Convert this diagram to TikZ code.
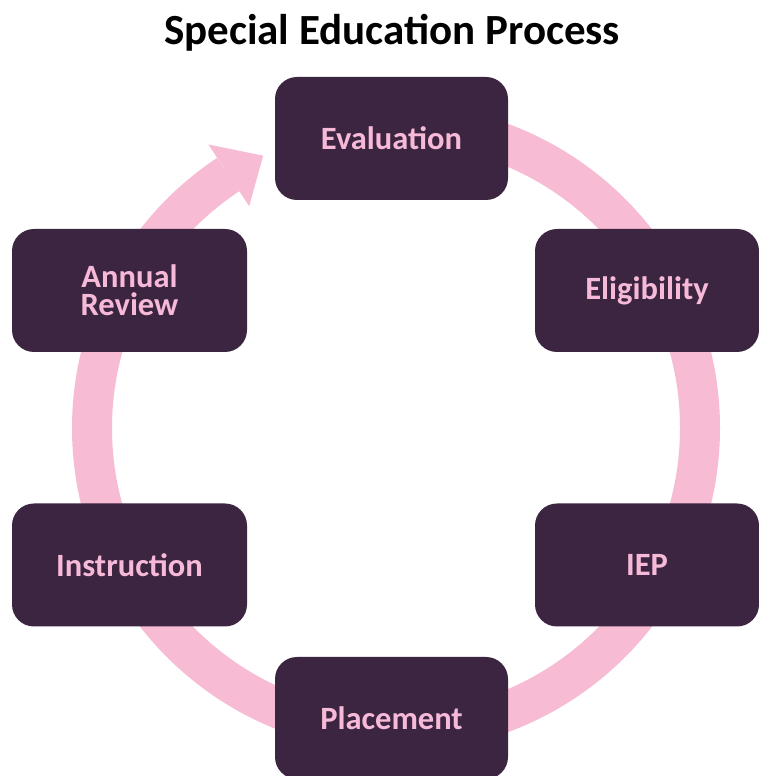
\documentclass[tikz,border=0pt]{standalone}
\usepackage{fontspec}
\setmainfont{Carlito}
\definecolor{boxfill}{RGB}{60,37,65}
\definecolor{ringpink}{RGB}{247,187,212}
\definecolor{textpink}{RGB}{246,186,216}
\begin{document}
\begin{tikzpicture}[x=1pt,y=1pt,
  stagebox/.style={fill=boxfill,draw=none,rounded corners=22pt,minimum height=123pt,
    text=textpink,font=\fontsize{32.5}{28}\selectfont\bfseries,align=center,inner sep=0pt},
  ringline/.style={draw=ringpink,line width=40pt},
  ringhead/.style={fill=ringpink,draw=none}]
\useasboundingbox (0,0) rectangle (759,776);
\clip (0,0) rectangle (759,776);
\fill[white] (0,0) rectangle (759,776);
\coordinate (C) at (396,348);
% ring with arrow head
\draw[ringline] ([shift={(90:304)}]C) arc[start angle=90,end angle=-236.5,radius=304];
\fill[ringhead] ([shift={(123.5:340)}]C) -- ([shift={(116:303)}]C) -- ([shift={(123.5:266)}]C) -- cycle;
% title
\node[font=\fontsize{43}{50}\selectfont\bfseries,anchor=base] (title) at (392,731) {Special Education Process};
% boxes
\node[stagebox,minimum width=233pt] (eval) at (391.5,637.5) {Evaluation};
\node[stagebox,minimum width=235pt] (annual) at (129.5,485.5) {Annual\\Review};
\node[stagebox,minimum width=224pt] (elig) at (647,485.5) {Eligibility};
\node[stagebox,minimum width=235pt] (instr) at (129.5,211) {Instruction};
\node[stagebox,minimum width=224pt] (iep) at (647,211) {IEP};
\node[stagebox,minimum width=233pt,minimum height=122pt] (place) at (391.5,58) {Placement};
\end{tikzpicture}
\end{document}
